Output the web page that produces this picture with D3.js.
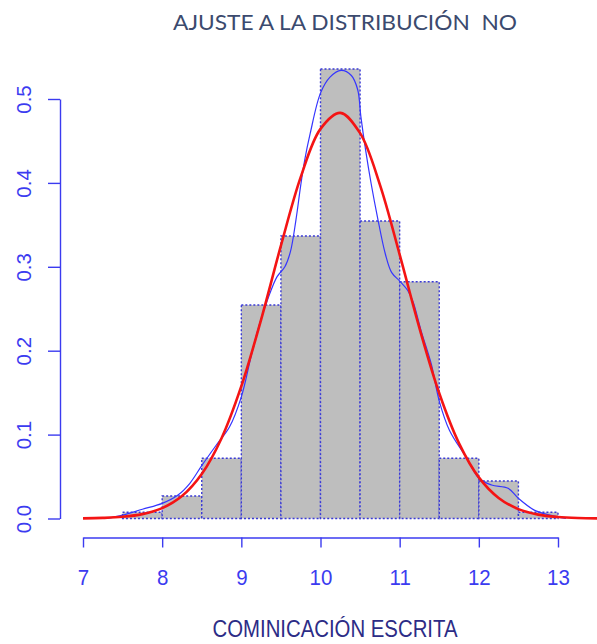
<!DOCTYPE html>
<html>
<head>
<meta charset="utf-8">
<script src="https://cdn.jsdelivr.net/npm/d3@7"></script>
<style>
  html, body { margin: 0; padding: 0; background: #ffffff; }
  svg { display: block; }
</style>
</head>
<body>
<svg id="chart" width="597" height="644"></svg>
<script>
// Histogram bins (width 0.5) and their densities
const binStarts = [7.5, 8.0, 8.5, 9.0, 9.5, 10.0, 10.5, 11.0, 11.5, 12.0, 12.5];
const binWidth = 0.5;
const binDensity = [0.0074, 0.0268, 0.0718, 0.2545, 0.3367, 0.5358, 0.3546, 0.2822, 0.0718, 0.0447, 0.0074];

// Kernel density estimate (blue line)
const kdeX = [7.30, 7.50, 7.75, 8.00, 8.20, 8.35, 8.50, 8.68, 8.85, 9.00, 9.13, 9.23, 9.34, 9.45, 9.55, 9.62,
              9.69, 9.75, 9.80, 9.87, 10.00, 10.12, 10.26, 10.39, 10.47, 10.51, 10.57, 10.64, 10.72, 10.82,
              10.90, 11.00, 11.10, 11.17, 11.27, 11.40, 11.50, 11.63, 11.84, 12.00, 12.16, 12.37, 12.50,
              12.70, 12.90, 13.10];
const kdeY = [0.000, 0.004, 0.011, 0.018, 0.028, 0.042, 0.063, 0.087, 0.109, 0.145, 0.196, 0.232, 0.263, 0.288, 0.300, 0.318,
              0.356, 0.397, 0.427, 0.459, 0.507, 0.526, 0.534, 0.528, 0.511, 0.479, 0.439, 0.399, 0.359, 0.315,
              0.293, 0.283, 0.272, 0.258, 0.224, 0.184, 0.140, 0.105, 0.073, 0.048, 0.040, 0.036, 0.024,
              0.010, 0.004, 0.000];

// Fitted normal density (red line)
const normX = [7.00, 7.25, 7.50, 7.75, 8.00, 8.25, 8.50, 8.75, 9.00, 9.25, 9.50, 9.75, 10.00, 10.25,
               10.50, 10.75, 11.00, 11.25, 11.50, 11.75, 12.00, 12.25, 12.50, 12.75, 13.00, 13.25, 13.50];
const normY = [0.0002, 0.0007, 0.0020, 0.0052, 0.0123, 0.0267, 0.0530, 0.0957, 0.1577, 0.2371, 0.3252, 0.4069, 0.4644, 0.4835,
               0.4593, 0.3980, 0.3146, 0.2269, 0.1493, 0.0896, 0.0490, 0.0245, 0.0112, 0.0046, 0.0018, 0.0006, 0.0002];

// Axis ticks
const xTicks = [7, 8, 9, 10, 11, 12, 13];
const yTicks = [0.0, 0.1, 0.2, 0.3, 0.4, 0.5];
const yTickLabels = ["0.0", "0.1", "0.2", "0.3", "0.4", "0.5"];

const titleText = "AJUSTE A LA DISTRIBUCIÓN  NO";
const xLabelText = "COMINICACIÓN ESCRITA";

const svg = d3.select("#chart");

const x = d3.scaleLinear().domain([7, 13]).range([83, 558]);
const y = d3.scaleLinear().domain([0, 0.5]).range([518.5, 99]);

const axisBlue = "#3b3bf0";
const tickFont = "'Liberation Sans', Arial, sans-serif";

// Bars
const bins = binStarts.map((s, i) => ({ x0: s, x1: s + binWidth, d: binDensity[i] }));
svg.append("g")
  .selectAll("rect")
  .data(bins)
  .join("rect")
  .attr("x", d => x(d.x0))
  .attr("y", d => y(d.d))
  .attr("width", d => x(d.x1) - x(d.x0))
  .attr("height", d => y(0) - y(d.d))
  .attr("fill", "#bebebe")
  .attr("stroke", "#3a3ad6")
  .attr("stroke-width", 1.4)
  .attr("stroke-dasharray", "2,2");

// Density lines
const line = d3.line()
  .x(d => x(d[0]))
  .y(d => y(d[1]))
  .curve(d3.curveCatmullRom.alpha(0.5));

svg.append("path")
  .datum(kdeX.map((v, i) => [v, kdeY[i]]))
  .attr("d", line)
  .attr("fill", "none")
  .attr("stroke", "#3535ff")
  .attr("stroke-width", 1.2);

svg.append("path")
  .datum(normX.map((v, i) => [v, normY[i]]))
  .attr("d", line)
  .attr("fill", "none")
  .attr("stroke", "#f41414")
  .attr("stroke-width", 2.6);

// X axis
const xAxis = svg.append("g")
  .attr("transform", "translate(0,537.5)")
  .call(d3.axisBottom(x).tickValues(xTicks).tickFormat(d3.format("d")).tickSize(10).tickSizeOuter(0));
xAxis.select(".domain").attr("stroke", axisBlue).attr("stroke-width", 1.4);
xAxis.selectAll(".tick line").attr("stroke", axisBlue).attr("stroke-width", 1.4);
xAxis.selectAll(".tick text")
  .attr("y", null)
  .attr("dy", null)
  .attr("transform", "translate(0,47.5) scale(1,1.1)")
  .attr("fill", axisBlue)
  .attr("font-family", tickFont)
  .attr("font-size", 20.5);

// Y axis
const yAxis = svg.append("g")
  .attr("transform", "translate(60,0)")
  .call(d3.axisLeft(y).tickValues(yTicks).tickFormat((d, i) => yTickLabels[i]).tickSize(12).tickSizeOuter(0));
yAxis.select(".domain").attr("stroke", axisBlue).attr("stroke-width", 1.4);
yAxis.selectAll(".tick line").attr("stroke", axisBlue).attr("stroke-width", 1.4);
yAxis.selectAll(".tick text")
  .attr("x", null)
  .attr("dy", null)
  .attr("transform", "translate(-29,0) rotate(-90)")
  .attr("text-anchor", "middle")
  .attr("fill", axisBlue)
  .attr("font-family", tickFont)
  .attr("font-size", 20.5);

// Title
svg.append("text")
  .attr("x", 345)
  .attr("y", 30)
  .attr("text-anchor", "middle")
  .attr("fill", "#3b4a6e")
  .attr("font-family", "Lato, 'Open Sans', sans-serif")
  .attr("font-size", 22)
  .attr("textLength", 344)
  .attr("lengthAdjust", "spacingAndGlyphs")
  .style("white-space", "pre")
  .text(titleText);

// X axis label
svg.append("text")
  .attr("transform", "translate(335,637) scale(1,1.1)")
  .attr("text-anchor", "middle")
  .attr("fill", "#2c2c86")
  .attr("font-family", tickFont)
  .attr("font-size", 21)
  .attr("textLength", 245)
  .attr("lengthAdjust", "spacingAndGlyphs")
  .text(xLabelText);
</script>
</body>
</html>
